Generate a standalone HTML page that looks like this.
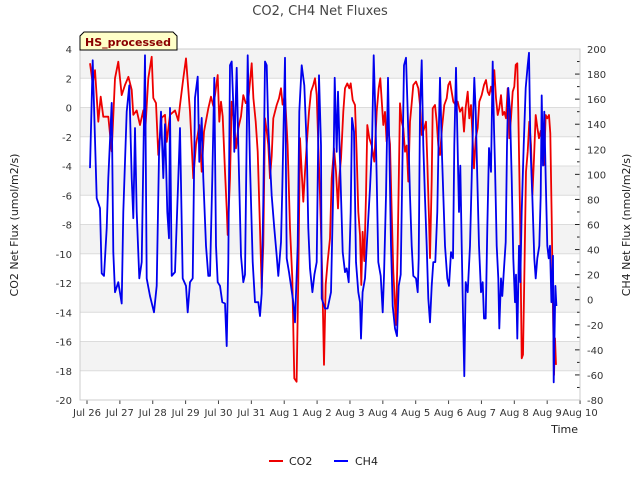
<!DOCTYPE html>
<html><head><meta charset="utf-8"><style>
body{margin:0;background:#fff;}
svg text{font-family:"DejaVu Sans","Liberation Sans",sans-serif;}
</style></head><body>
<svg id="chart" width="640" height="480" viewBox="0 0 640 480" xmlns="http://www.w3.org/2000/svg">
<g id="bands"></g>
<g id="grid"></g>
<g id="series"></g>
<g id="axes"></g>
<text x="320" y="15" text-anchor="middle" font-size="13" fill="#444">CO2, CH4 Net Fluxes</text>
<text transform="translate(18,225) rotate(-90)" text-anchor="middle" font-size="11" fill="#222">CO2 Net Flux (umol/m2/s)</text>
<text transform="translate(630,225) rotate(-90)" text-anchor="middle" font-size="11" fill="#222">CH4 Net Flux (nmol/m2/s)</text>
<text x="578" y="433" text-anchor="end" font-size="11" fill="#222">Time</text>
<g>
<path d="M80,50 L80,36 L84,32 L173,32 L177,36 L177,50 Z" fill="#ffffc8" stroke="#000" stroke-width="1"/>
<text x="128" y="46" text-anchor="middle" font-size="11" font-weight="bold" fill="#8b0000">HS_processed</text>
</g>
<g>
<g><line x1="269" y1="461" x2="283" y2="461" stroke="#e00" stroke-width="2"/><text x="289" y="465" font-size="11" fill="#222">CO2</text></g>
<g><line x1="334" y1="461" x2="348" y2="461" stroke="#00f" stroke-width="2"/><text x="355" y="465" font-size="11" fill="#222">CH4</text></g>
</g>
</svg>
<script>
const xTickLabels=["Jul 26","Jul 27","Jul 28","Jul 29","Jul 30","Jul 31","Aug 1","Aug 2","Aug 3","Aug 4","Aug 5","Aug 6","Aug 7","Aug 8","Aug 9","Aug 10"];
const leftTicks=[4,2,0,-2,-4,-6,-8,-10,-12,-14,-16,-18,-20];
const rightTicks=[200,180,160,140,120,100,80,60,40,20,0,-20,-40,-60,-80];
const co2Time=[0.091,0.172,0.243,0.345,0.416,0.497,0.649,0.751,0.852,0.953,1.055,1.156,1.258,1.359,1.410,1.511,1.612,1.714,1.765,1.866,1.968,2.018,2.099,2.170,2.272,2.373,2.424,2.525,2.677,2.779,2.829,2.931,3.012,3.134,3.235,3.316,3.418,3.489,3.560,3.691,3.772,3.843,3.894,3.975,4.026,4.076,4.127,4.198,4.249,4.279,4.350,4.401,4.482,4.533,4.604,4.685,4.756,4.827,4.908,5.010,5.061,5.132,5.192,5.263,5.314,5.364,5.415,5.466,5.516,5.567,5.618,5.669,5.770,5.841,5.902,5.952,6.023,6.104,6.175,6.246,6.307,6.378,6.429,6.480,6.531,6.581,6.632,6.683,6.754,6.815,6.886,6.937,6.987,7.038,7.089,7.160,7.210,7.261,7.322,7.393,7.443,7.515,7.575,7.636,7.677,7.727,7.798,7.849,7.920,7.981,8.021,8.082,8.153,8.204,8.255,8.305,8.346,8.386,8.437,8.488,8.528,8.589,8.660,8.741,8.812,8.873,8.924,8.964,9.015,9.066,9.116,9.167,9.218,9.269,9.319,9.401,9.451,9.482,9.522,9.573,9.624,9.675,9.725,9.776,9.827,9.878,9.928,10.009,10.080,10.131,10.182,10.263,10.314,10.354,10.405,10.435,10.486,10.516,10.587,10.638,10.689,10.740,10.800,10.871,10.942,10.993,11.044,11.145,11.216,11.277,11.348,11.419,11.470,11.520,11.581,11.632,11.682,11.723,11.774,11.824,11.885,11.936,12.007,12.078,12.139,12.190,12.240,12.291,12.342,12.392,12.443,12.494,12.544,12.595,12.646,12.696,12.747,12.798,12.849,12.899,12.950,13.001,13.041,13.092,13.122,13.173,13.224,13.265,13.305,13.356,13.407,13.457,13.508,13.549,13.599,13.650,13.701,13.751,13.802,13.853,13.903,13.954,14.005,14.056,14.096,14.137,14.178,14.208,14.239,14.269];
const co2Vals=[3.02,1.65,2.56,-0.97,0.74,-0.63,-0.63,-3.0,2.0,3.13,0.85,1.54,2.1,1.2,-0.5,-0.2,-1.2,-0.2,-1.9,2.0,3.47,0.65,0.3,-3.25,-0.7,-0.5,-2.35,-0.5,-0.2,-0.9,0.17,2.0,3.36,-0.29,-4.84,-2.56,-1.2,-4.39,-1.65,-0.06,0.74,0.1,0.85,2.22,-0.97,0.4,-0.6,-4.39,-6.9,-8.72,-4.84,0.4,-1.2,-2.79,-1.42,-0.6,0.85,0.3,0.5,3.02,0.63,-0.97,-3.02,-8.26,-12.36,-9.4,-0.74,-1.6,-2.56,-4.84,-3.3,-0.74,0.17,0.63,1.31,0.2,0.85,-2.56,-8.26,-11.68,-18.52,-18.75,-11.7,-2.1,-4.4,-6.44,-4.4,-2.6,-0.29,1.08,1.54,2.0,0.85,-2.56,-5.98,-11.68,-17.6,-12.1,-10.5,-8.95,-4.84,-2.79,-4.4,-6.9,-4.8,-3.5,-0.29,1.31,1.65,1.31,1.65,0.51,0.17,-3.25,-7.13,-8.72,-12.14,-8.5,-10.5,-6.0,-1.2,-2.1,-2.6,-3.7,-0.29,1.31,2.0,0.6,-1.2,-0.3,-2.33,-1.4,-2.5,-7.13,-11.2,-14.87,-9.4,-5.3,0.29,-0.97,-1.4,-3.02,-2.6,-5.07,-0.97,0.29,1.54,1.77,1.31,0.17,-1.88,-1.4,-0.97,-3.7,-7.58,-10.3,-5.0,-0.06,0.17,-0.97,-2.6,-3.25,-1.4,0.17,0.63,1.54,1.77,0.4,0.17,0.4,-0.29,0.0,-1.65,0.0,1.08,-0.74,0.17,-1.65,-4.16,-2.1,-1.4,0.4,0.85,1.54,1.88,1.08,0.85,1.42,0.85,2.56,0.63,-0.51,-0.05,0.85,-0.51,-0.3,-0.74,1.31,-2.1,-0.74,1.08,1.42,2.91,3.02,-0.29,-7.13,-17.15,-16.9,-11.68,-4.39,-3.02,-0.97,-2.56,-5.98,-3.47,-0.51,-1.4,-2.1,-1.6,-2.56,-3.93,-0.51,-0.74,-0.51,-1.77,-7.58,-13.96,-18.29,-15.78,-17.6];
const ch4Time=[0.091,0.172,0.294,0.395,0.446,0.517,0.598,0.649,0.751,0.801,0.852,0.953,1.055,1.105,1.207,1.288,1.359,1.410,1.460,1.511,1.592,1.663,1.765,1.815,1.917,2.038,2.120,2.190,2.251,2.322,2.373,2.444,2.495,2.525,2.576,2.677,2.779,2.829,2.911,3.012,3.063,3.134,3.215,3.286,3.367,3.418,3.489,3.539,3.620,3.691,3.742,3.813,3.874,3.925,3.975,4.046,4.117,4.198,4.249,4.300,4.350,4.401,4.452,4.482,4.553,4.604,4.685,4.756,4.807,4.888,4.959,5.040,5.111,5.212,5.263,5.314,5.364,5.415,5.466,5.516,5.618,5.699,5.770,5.821,5.902,5.942,6.023,6.074,6.145,6.206,6.277,6.328,6.409,6.460,6.531,6.612,6.683,6.734,6.785,6.856,6.917,6.987,7.058,7.119,7.140,7.240,7.321,7.422,7.493,7.535,7.596,7.636,7.697,7.778,7.849,7.900,7.961,8.021,8.062,8.123,8.184,8.255,8.305,8.336,8.386,8.458,8.528,8.609,8.671,8.721,8.772,8.813,8.863,8.934,8.995,9.036,9.097,9.157,9.198,9.249,9.300,9.370,9.431,9.482,9.543,9.604,9.644,9.705,9.756,9.826,9.877,9.928,10.009,10.060,10.090,10.131,10.182,10.232,10.283,10.334,10.384,10.435,10.486,10.536,10.597,10.658,10.699,10.740,10.800,10.891,10.962,11.013,11.074,11.135,11.175,11.226,11.267,11.317,11.358,11.398,11.449,11.479,11.520,11.581,11.652,11.703,11.753,11.784,11.824,11.875,11.926,11.987,12.037,12.078,12.129,12.179,12.230,12.291,12.342,12.382,12.412,12.463,12.514,12.544,12.595,12.636,12.686,12.737,12.778,12.818,12.869,12.920,12.970,13.021,13.052,13.092,13.143,13.183,13.224,13.285,13.345,13.406,13.447,13.488,13.548,13.609,13.650,13.700,13.761,13.802,13.832,13.873,13.913,13.954,14.005,14.046,14.086,14.127,14.178,14.198,14.249,14.279];
const ch4Vals=[105,191,81,73,21,19,57,97,157,38,6,14,-3,70,150,171,97,65,137,70,17,30,195,17,3,-10,11,115,150,97,140,70,49,153,19,22,97,137,17,11,-10,14,17,161,178,110,145,97,43,19,19,97,177,43,14,11,-2,-3,-37,30,187,190,155,118,185,123,35,14,20,195,107,30,-2,-2,-13,5,78,190,187,137,83,57,35,19,46,89,193,33,22,11,-2,-18,43,150,187,171,123,57,25,6,20,30,179,123,1,-7,-7,6,91,177,118,166,110,38,22,25,14,70,145,134,30,6,-2,-31,6,17,51,89,123,195,150,97,30,19,-10,19,83,177,123,43,-5,-23,-29,11,20,123,187,193,150,83,43,19,17,6,33,150,191,123,81,43,1,-18,11,30,30,70,131,177,115,43,17,11,38,33,123,185,134,70,107,43,-23,-61,14,6,43,97,150,177,150,97,43,6,14,-15,-15,57,121,102,190,137,107,43,17,-23,17,3,25,46,123,169,150,97,33,-2,20,-31,43,14,70,123,169,187,197,123,83,33,17,33,43,83,163,107,150,97,43,33,43,-2,35,-66,11,-5];

const X0=87, DAYW=32.87, PL=80, PR=580, PT=49, PB=400;
function xScale(d){return X0+d*DAYW;}
function yLeft(v){return PT+(4-v)*(PB-PT)/24;}
function yRight(v){return PT+(200-v)*(PB-PT)/280;}
const NS="http://www.w3.org/2000/svg";
function mk(tag,attrs,parent){const e=document.createElementNS(NS,tag);for(const k in attrs)e.setAttribute(k,attrs[k]);parent.appendChild(e);return e;}
const bands=document.getElementById('bands'),grid=document.getElementById('grid'),series=document.getElementById('series'),axes=document.getElementById('axes');
for(let i=0;i<leftTicks.length-1;i++){
  if(i%2===0){const r=mk('rect',{x:PL,y:yLeft(leftTicks[i]),width:PR-PL,height:yLeft(leftTicks[i+1])-yLeft(leftTicks[i]),fill:'#f3f3f3'},bands);
  
  }
}
leftTicks.forEach(v=>{
  const y=yLeft(v);
  const l=mk('line',{x1:PL,x2:PR,y1:y,y2:y,stroke:'#dcdcdc','stroke-width':1},grid);
  
  
  const t=mk('text',{x:72,y:y+4,'text-anchor':'end','font-size':10,fill:'#333'},axes);t.textContent=v;
  
  
});
rightTicks.forEach((v,i)=>{
  const y=yRight(v);
  const t=mk('text',{x:587,y:y+4,'font-size':10,fill:'#333'},axes);t.textContent=v;
  
  
  mk('line',{x1:PR-5,x2:PR,y1:y,y2:y,stroke:'#222','stroke-width':1},axes);
  if(i<rightTicks.length-1){const ym=yRight(v-10);mk('line',{x1:PR-3,x2:PR,y1:ym,y2:ym,stroke:'#222','stroke-width':1},axes);}
});
xTickLabels.forEach((s,i)=>{
  const x=xScale(i);
  mk('line',{x1:x,x2:x,y1:PB,y2:PB+4,stroke:'#444','stroke-width':1},axes);
  const t=mk('text',{x:x,y:416,'text-anchor':'middle','font-size':10,fill:'#333'},axes);t.textContent=s;
  
  
});
const frame=mk('rect',{x:PL,y:PT,width:PR-PL,height:PB-PT,fill:'none',stroke:'#cccccc','stroke-width':1},axes);


function line(ts,vs,ys,color,name){
  const d=ts.map((t,i)=>(i?'L':'M')+xScale(t).toFixed(1)+','+ys(vs[i]).toFixed(1)).join(' ');
  const p=mk('path',{d:d,fill:'none',stroke:color,'stroke-width':1.8,'stroke-linejoin':'round'},series);
  
  
}
line(co2Time,co2Vals,yLeft,'#ee0000','co2-line');
line(ch4Time,ch4Vals,yRight,'#0000ee','ch4-line');
</script>
</body></html>
